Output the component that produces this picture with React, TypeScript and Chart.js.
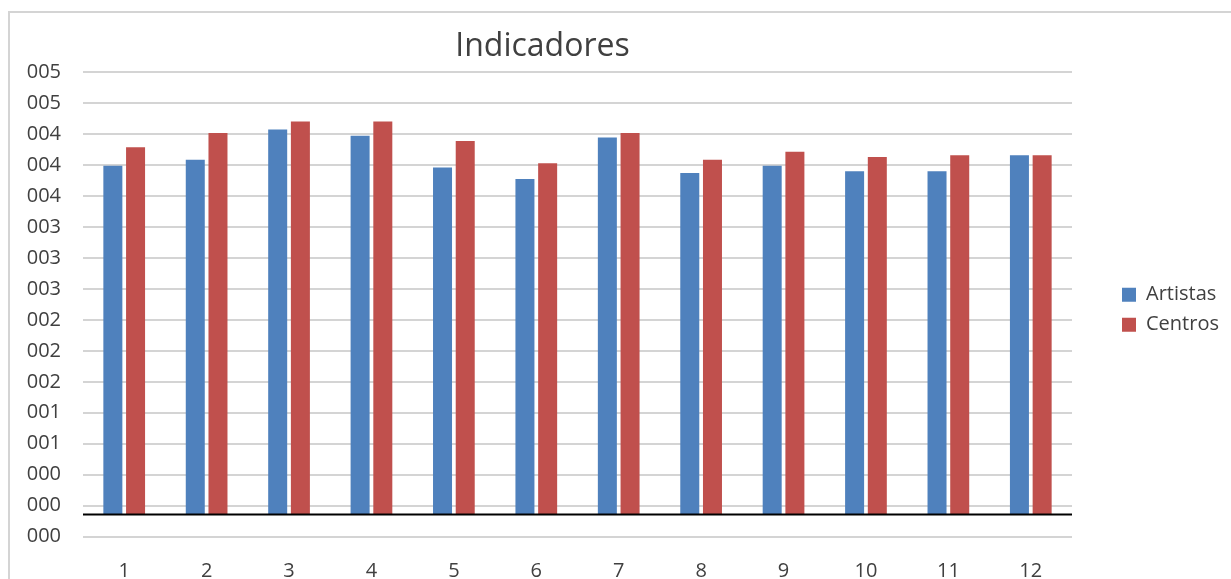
import { useEffect, useRef } from 'react';
import { Chart, registerables } from 'chart.js';

Chart.register(...registerables);

const TITLE = 'Indicadores';
const CATEGORIES = ['1', '2', '3', '4', '5', '6', '7', '8', '9', '10', '11', '12'];
const SERIES_NAMES = ['Artistas', 'Centros'];
const ARTISTAS = [3.94, 4.01, 4.35, 4.28, 3.92, 3.79, 4.26, 3.86, 3.94, 3.88, 3.88, 4.06];
const CENTROS = [4.15, 4.31, 4.44, 4.44, 4.22, 3.97, 4.31, 4.01, 4.1, 4.04, 4.06, 4.06];
// tick labels, top to bottom (number format "000")
const Y_TICK_LABELS = ['005', '005', '004', '004', '004', '003', '003', '003', '002', '002', '002', '001', '001', '000', '000', '000'];
const Y_MIN = -0.25;
const Y_MAX = 5.0;
const Y_STEP = 0.35;

const FONT = '"Open Sans", "DejaVu Sans", sans-serif';
const TEXT = '#404040';

const titlePlugin = {
  id: 'offsetTitle',
  afterDraw(chart: any) {
    const { ctx, chartArea } = chart;
    ctx.save();
    ctx.font = `32px ${FONT}`;
    ctx.fillStyle = TEXT;
    ctx.textAlign = 'center';
    ctx.textBaseline = 'alphabetic';
    const x = chartArea.left + (chartArea.right - chartArea.left) * 0.4646;
    ctx.fillText(TITLE, x, chartArea.top - 16.3);
    ctx.restore();
  },
};

const zeroLinePlugin = {
  id: 'zeroLine',
  afterDatasetsDraw(chart: any) {
    const { ctx, chartArea, scales } = chart;
    const y = scales.y.getPixelForValue(0);
    ctx.save();
    ctx.strokeStyle = '#000000';
    ctx.lineWidth = 2;
    ctx.beginPath();
    ctx.moveTo(chartArea.left, y);
    ctx.lineTo(chartArea.right, y);
    ctx.stroke();
    ctx.restore();
  },
};

export default function App() {
  const ref = useRef<HTMLCanvasElement | null>(null);

  useEffect(() => {
    if (!ref.current) return;
    const chart = new Chart(ref.current, {
      type: 'bar',
      data: {
        labels: CATEGORIES,
        datasets: [
          {
            label: SERIES_NAMES[0],
            data: ARTISTAS,
            backgroundColor: '#4F81BD',
            borderWidth: 0,
            categoryPercentage: 0.551,
            barPercentage: 0.837,
          },
          {
            label: SERIES_NAMES[1],
            data: CENTROS,
            backgroundColor: '#C0504D',
            borderWidth: 0,
            categoryPercentage: 0.551,
            barPercentage: 0.837,
          },
        ],
      },
      options: {
        responsive: false,
        animation: false,
        devicePixelRatio: 1,
        layout: { padding: { top: 59, bottom: 0, left: 0, right: 4 } },
        plugins: {
          title: { display: false },
          tooltip: { enabled: false },
          legend: {
            position: 'right',
            align: 'center',
            fullSize: false,
            maxWidth: 115,
            title: { display: true, text: '', padding: 0, font: { size: 10.6, lineHeight: 1 } },
            labels: {
              boxWidth: 14,
              boxHeight: 14,
              padding: 10,
              color: TEXT,
              font: { family: FONT, size: 20 },
            },
          },
        },
        scales: {
          x: {
            grid: { display: false, drawTicks: false },
            border: { display: false },
            ticks: { color: TEXT, padding: 23, font: { family: FONT, size: 20 } },
            afterFit(s: any) {
              s.height = 42.3;
            },
          },
          y: {
            min: Y_MIN,
            max: Y_MAX,
            grid: { color: '#d4d4d4', lineWidth: 2, drawTicks: false },
            border: { display: false },
            ticks: {
              stepSize: Y_STEP,
              color: TEXT,
              padding: 22,
              font: { family: FONT, size: 20 },
              callback: (_v: any, i: number, ticks: any[]) => Y_TICK_LABELS[ticks.length - 1 - i],
            },
            afterFit(s: any) {
              s.width = 73;
            },
          },
          spacer: {
            type: 'linear',
            axis: 'y',
            position: 'right',
            display: true,
            grid: { display: false, drawTicks: false },
            border: { display: false },
            ticks: { display: false },
            afterFit(s: any) {
              s.width = 40;
            },
          },
        },
      } as any,
      plugins: [titlePlugin, zeroLinePlugin],
    });
    return () => chart.destroy();
  }, []);

  return (
    <div
      style={{
        position: 'fixed',
        left: 8,
        top: 11,
        width: 1223,
        height: 568,
        borderLeft: '2px solid #d4d4d4',
        borderTop: '2px solid #d4d4d4',
        boxSizing: 'border-box',
        background: '#ffffff',
      }}
    >
      <canvas ref={ref} width={1221} height={566} style={{ display: 'block', width: 1221, height: 566 }} />
    </div>
  );
}
